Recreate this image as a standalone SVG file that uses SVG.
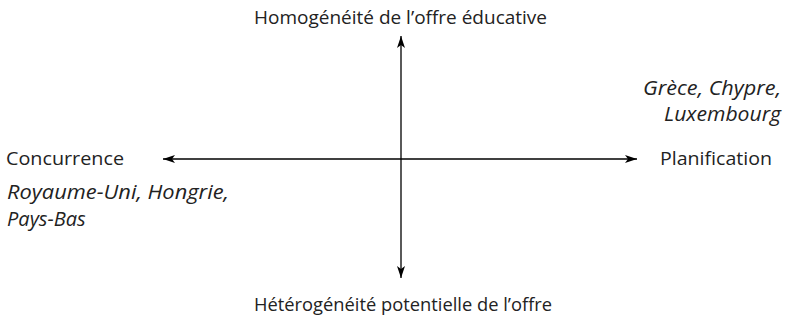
<svg xmlns="http://www.w3.org/2000/svg" width="785" height="322" viewBox="0 0 785 322">
<style>
text{font-family:"Open Sans","Liberation Sans",sans-serif;font-size:18.5px;fill:#222}
.i{font-style:italic;font-size:20px}
.ax{stroke:#000;stroke-width:1.3;fill:none}
</style>
<defs>
<marker id="ah" viewBox="0 0 12 8" refX="12" refY="4" markerWidth="12" markerHeight="8" markerUnits="userSpaceOnUse" orient="auto">
<path d="M0,0 L12,4 L0,8 L3,4 Z" fill="#000"/>
</marker>
</defs>
<rect width="785" height="322" fill="#fff"/>
<g id="connectors">
<line class="ax" x1="401" y1="159" x2="163" y2="159" marker-end="url(#ah)"/>
<line class="ax" x1="401" y1="159" x2="637" y2="159" marker-end="url(#ah)"/>
<line class="ax" x1="401" y1="159" x2="401" y2="36" marker-end="url(#ah)"/>
<line class="ax" x1="401" y1="159" x2="401" y2="278" marker-end="url(#ah)"/>
</g>
<g id="top"><text x="254" y="24" textLength="293" lengthAdjust="spacingAndGlyphs">Homogénéité de l’offre éducative</text></g>
<g id="bottom"><text x="254" y="311" textLength="298" lengthAdjust="spacingAndGlyphs">Hétérogénéité potentielle de l’offre</text></g>
<g id="left"><text x="6" y="165" textLength="118" lengthAdjust="spacingAndGlyphs">Concurrence</text></g>
<g id="right"><text x="660" y="165" textLength="112" lengthAdjust="spacingAndGlyphs">Planification</text></g>
<g id="ne"><text class="i" x="643" y="95" textLength="138" lengthAdjust="spacingAndGlyphs">Grèce, Chypre,</text><text class="i" x="664" y="121" textLength="117" lengthAdjust="spacingAndGlyphs">Luxembourg</text></g>
<g id="sw"><text class="i" x="7" y="199" textLength="222" lengthAdjust="spacingAndGlyphs">Royaume-Uni, Hongrie,</text><text class="i" x="7" y="226">Pays-Bas</text></g>
</svg>
